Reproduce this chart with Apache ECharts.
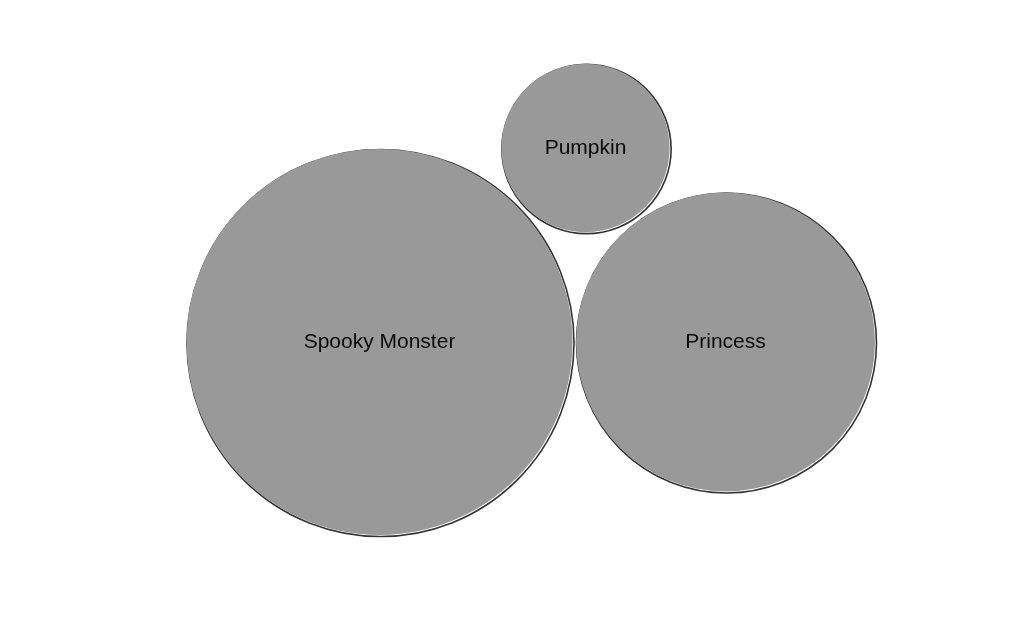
<!DOCTYPE html>
<html><head><meta charset="utf-8">
<script src="https://cdn.jsdelivr.net/npm/echarts@6/dist/echarts.min.js"></script>
<style>html,body{margin:0;padding:0;background:#fff}#c{width:1023px;height:617px}</style>
</head><body><div id="c"></div>
<script>
const categories = ['Spooky Monster', 'Pumpkin', 'Princess'];
const values = [100, 19, 60];
const xPos = [379.5, 585.5, 725.5];
const yPos = [342, 148, 342];

const maxDiameter = 386;
function size(v) { return maxDiameter * Math.sqrt(v / 100); }

const pts = categories.map((c, i) => ({ name: c, value: [xPos[i], yPos[i], values[i]] }));

const chart = echarts.init(document.getElementById('c'), null, { renderer: 'canvas' });
chart.setOption({
  animation: false,
  backgroundColor: '#ffffff',
  grid: { left: 0, right: 0, top: 0, bottom: 0 },
  xAxis: { type: 'value', min: 0, max: 1023, show: false },
  yAxis: { type: 'value', min: 0, max: 617, inverse: true, show: false },
  series: [
    {
      type: 'scatter', silent: true,
      data: pts,
      symbolSize: d => size(d[2]) + 1,
      symbolOffset: [1, 1],
      itemStyle: { color: 'rgba(0,0,0,0)', borderColor: '#000', borderWidth: 1.6 },
      z: 1
    },
    {
      type: 'scatter',
      data: pts,
      symbolSize: d => size(d[2]),
      itemStyle: { color: '#999999', opacity: 1 },
      label: {
        show: true, position: 'inside', formatter: p => p.name,
        color: '#0a0a0a', fontSize: 21, fontFamily: 'Liberation Sans, Arial, sans-serif'
      },
      z: 2
    }
  ]
});
</script></body></html>
